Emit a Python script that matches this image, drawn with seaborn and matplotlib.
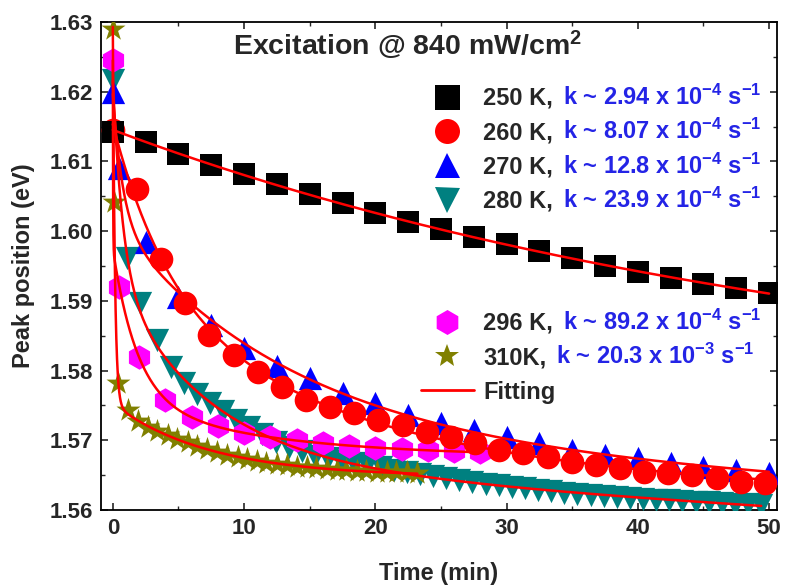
import numpy as np
import pandas as pd
import matplotlib
matplotlib.use("Agg")
import matplotlib.pyplot as plt
from matplotlib.lines import Line2D
from matplotlib.ticker import MultipleLocator, FormatStrFormatter
import seaborn as sns

# ---- measured peak positions (time in min, energy in eV) ----
t_250 = [0, 2.5, 5, 7.5, 10, 12.5, 15, 17.5, 20, 22.5, 25, 27.5, 30, 32.5,
         35, 37.5, 40, 42.5, 45, 47.5, 50]
pk_250 = [1.6142, 1.6128, 1.6111, 1.6095, 1.6082, 1.6068, 1.6053, 1.6040,
          1.6026, 1.6013, 1.6003, 1.5992, 1.5982, 1.5971, 1.5961, 1.5950,
          1.5941, 1.5933, 1.5924, 1.5918, 1.5911]

t_260 = [0, 1.84, 3.68, 5.52, 7.36, 9.2, 11.04, 12.88, 14.72, 16.56, 18.4,
         20.24, 22.08, 23.92, 25.76, 27.6, 29.44, 31.28, 33.12, 34.96, 36.8,
         38.64, 40.48, 42.32, 44.16, 46.0, 47.84, 49.68]
pk_260 = [1.6145, 1.6060, 1.5960, 1.5897, 1.5851, 1.5822, 1.5798, 1.5776,
          1.5758, 1.5748, 1.5739, 1.5729, 1.5722, 1.5712, 1.5705, 1.5696,
          1.5686, 1.5682, 1.5676, 1.5669, 1.5665, 1.5660, 1.5654, 1.5653,
          1.5650, 1.5646, 1.5640, 1.5639]

t_270 = [0, 0.5, 2.5, 5, 7.5, 10, 12.5, 15, 17.5, 20, 22.5, 25, 27.5, 30,
         32.5, 35, 37.5, 40, 42.5, 45, 47.5, 50]
pk_270 = [1.6200, 1.6090, 1.5985, 1.5905, 1.5865, 1.5832, 1.5807, 1.5789,
          1.5768, 1.5753, 1.5736, 1.5725, 1.5715, 1.5705, 1.5696, 1.5686,
          1.5679, 1.5675, 1.5667, 1.5662, 1.5657, 1.5653]

t_280 = [0, 1.05, 2.05, 3.4, 4.4, 5.4, 6.4, 7.4, 8.4, 9.4,
         10.4, 11.4, 12.4, 13.4, 14.4, 15.4, 16.4, 17.4, 18.4, 19.4,
         20.4, 21.4, 22.4, 23.4, 24.4, 25.4, 26.4, 27.4, 28.4, 29.4,
         30.4, 31.4, 32.4, 33.4, 34.4, 35.4, 36.4, 37.4, 38.4, 39.4,
         40.4, 41.4, 42.4, 43.4, 44.4, 45.4, 46.4, 47.4, 48.4, 49.4]
pk_280 = [1.6217, 1.5961, 1.5897, 1.5844, 1.5805, 1.5782, 1.5767, 1.5753, 1.5742, 1.5729,
          1.5719, 1.5709, 1.5697, 1.5690, 1.5684, 1.5678, 1.5674, 1.5670, 1.5667, 1.5664,
          1.5661, 1.5658, 1.5655, 1.5652, 1.5649, 1.5646, 1.5643, 1.5640, 1.5638, 1.5636,
          1.5633, 1.5631, 1.5629, 1.5627, 1.5625, 1.5623, 1.5622, 1.5620, 1.5619, 1.5617,
          1.5616, 1.5615, 1.5614, 1.5613, 1.5612, 1.5611, 1.5610, 1.5609, 1.5608, 1.5607]

t_296 = [0, 0.5, 2, 4, 6, 8, 10, 12, 14, 16, 18, 20, 22, 24, 26, 28]
pk_296 = [1.6245, 1.5920, 1.5820, 1.5758, 1.5733, 1.5720, 1.5710, 1.5705,
          1.5700, 1.5696, 1.5692, 1.5689, 1.5687, 1.5686, 1.5684, 1.5683]

t_310 = [0, 0.1, 0.4, 1.15, 1.9, 2.65, 3.4, 4.2, 4.9, 5.7, 6.4, 7.2, 7.9,
         8.7, 9.5, 10.2, 11.0, 11.7, 12.5, 13.3, 14.0, 14.8, 15.5, 16.3,
         17.1, 17.8, 18.6, 19.3, 20.1, 20.9, 21.6, 22.4, 23.2]
pk_310 = [1.6290, 1.6042, 1.5782, 1.5743, 1.5728, 1.5719, 1.5713, 1.5707,
          1.5702, 1.5697, 1.5692, 1.5687, 1.5683, 1.5679, 1.5676, 1.5673,
          1.5670, 1.5668, 1.5666, 1.5664, 1.5662, 1.5661, 1.5660, 1.5659,
          1.5658, 1.5657, 1.5656, 1.5656, 1.5655, 1.5655, 1.5654, 1.5654,
          1.5653]

# ---- series labels and decay constants (k = mantissa x 10^exponent, s^-1) ----
temps = ["250 K,", "260 K,", "270 K,", "280 K,", "296 K,", "310K,"]
k_mant = [2.94, 8.07, 12.8, 23.9, 89.2, 20.3]
k_exp = [-4, -4, -4, -4, -4, -3]

times = [t_250, t_260, t_270, t_280, t_296, t_310]
peaks = [pk_250, pk_260, pk_270, pk_280, pk_296, pk_310]
markers = ["s", "o", "^", "v", "h", "*"]
colors = ["#000000", "#FF0000", "#0000FF", "#008080", "#FF00FF", "#808000"]
sizes = [250, 290, 280, 280, 310, 330]
zorders = [4, 3.5, 3.2, 3.0, 3.3, 3.4]


def k_label(m, e):
    return f"k ~ {m:g} x 10$^{{{e}}}$ s$^{{-1}}$"


def fit_curve(t, y, rate, single=False):
    """Least-squares exponential fit with the decay rate fixed to k."""
    t = np.asarray(t, float)
    y = np.asarray(y, float)
    tf = np.unique(np.concatenate([np.linspace(0, min(1.0, t.max()), 300),
                                   np.linspace(0, t.max(), 600)]))
    if single:
        X = np.column_stack([np.ones_like(t), np.exp(-rate * t)])
        c = np.linalg.lstsq(X, y, rcond=None)[0]
        return tf, c[0] + c[1] * np.exp(-rate * tf)
    best, best_free = None, None
    for ta in np.geomspace(0.02, 3.0, 45):
        for tb in np.geomspace(1.5, 120.0, 45):
            X = np.column_stack([np.ones_like(t), np.exp(-rate * t),
                                 np.exp(-t / ta), np.exp(-t / tb)])
            c = np.linalg.lstsq(X, y, rcond=None)[0]
            sse = float(np.sum((X @ c - y) ** 2))
            cand = (sse, c, ta, tb)
            if best_free is None or sse < best_free[0]:
                best_free = cand
            if np.all(c[1:] >= -1e-6) and (best is None or sse < best[0]):
                best = cand
    sse, c, ta, tb = best if best is not None else best_free
    yf = c[0] + c[1] * np.exp(-rate * tf) + c[2] * np.exp(-tf / ta) + c[3] * np.exp(-tf / tb)
    return tf, yf


sns.set_theme(style="ticks")
plt.rcParams["font.family"] = ["Liberation Sans", "DejaVu Sans"]
plt.rcParams.update({
    "font.weight": "bold",
    "axes.labelweight": "bold",
    "mathtext.fontset": "custom",
    "mathtext.rm": "Liberation Sans:bold",
    "mathtext.it": "Liberation Sans:bold",
    "mathtext.bf": "Liberation Sans:bold",
    "mathtext.default": "rm",
    "xtick.direction": "in",
    "ytick.direction": "in",
    "xtick.top": True,
    "ytick.right": True,
    "axes.linewidth": 1.3,
    "xtick.major.width": 1.2,
    "ytick.major.width": 1.2,
    "xtick.minor.width": 1.0,
    "ytick.minor.width": 1.0,
    "xtick.major.size": 5,
    "ytick.major.size": 5,
    "xtick.minor.size": 3,
    "ytick.minor.size": 3,
    "axes.edgecolor": "black",
})

fig, ax = plt.subplots(figsize=(7.86, 5.86), dpi=100)
fig.subplots_adjust(left=0.1285, right=0.9885, top=0.9625, bottom=0.1297)

frames = []
for name, t, p in zip(temps, times, peaks):
    frames.append(pd.DataFrame({"time": t, "peak": p, "series": name}))
df = pd.concat(frames, ignore_index=True)

for name, mk, col, s, z in zip(temps, markers, colors, sizes, zorders):
    sub = df[df["series"] == name]
    sns.scatterplot(data=sub, x="time", y="peak", marker=mk, color=col, s=s,
                    linewidth=0, ax=ax, zorder=z, legend=False)

# fitted decay curves
for i, (t, p) in enumerate(zip(times, peaks)):
    rate = k_mant[i] * 10.0 ** k_exp[i] * 60.0  # per minute
    tf, yf = fit_curve(t, p, rate, single=(i == 0))
    sns.lineplot(x=tf, y=yf, color="#FF0000", linewidth=1.8, ax=ax,
                 estimator=None, sort=False, zorder=5, legend=False)

ax.set_xlim(-0.9, 50.6)
ax.set_ylim(1.56, 1.63)
ax.xaxis.set_major_locator(MultipleLocator(10))
ax.xaxis.set_minor_locator(MultipleLocator(5))
ax.yaxis.set_major_locator(MultipleLocator(0.01))
ax.yaxis.set_minor_locator(MultipleLocator(0.005))
ax.yaxis.set_major_formatter(FormatStrFormatter("%.2f"))
ax.tick_params(axis="both", which="both", labelsize=16, pad=6)
ax.set_xlabel("Time (min)", fontsize=17, labelpad=16)
ax.set_ylabel("Peak position (eV)", fontsize=17, labelpad=10)

ax.text(0.453, 0.951, "Excitation @ 840 mW/cm$^{2}$", transform=ax.transAxes,
        ha="center", va="center", fontsize=20.5, fontweight="bold", zorder=7)

# legend: two blocks of marker keys, plus the fit line
handles = [Line2D([], [], marker=m, color=c, linestyle="none", markersize=18,
                  markeredgewidth=0) for m, c in zip(markers, colors)]
fit_handle = Line2D([], [], color="#FF0000", linewidth=2)
leg_kw = dict(frameon=False, fontsize=17, handlelength=2.25, handletextpad=0.4,
              labelspacing=0.48, borderpad=0, borderaxespad=0, loc="upper left")
leg1 = ax.legend(handles[:4], temps[:4], bbox_to_anchor=(0.473, 0.867), **leg_kw)
ax.add_artist(leg1)
leg2 = ax.legend(handles[4:] + [fit_handle], temps[4:] + ["Fitting"],
                 bbox_to_anchor=(0.473, 0.406), **leg_kw)

fig.canvas.draw()
label_texts = list(leg1.get_texts()) + list(leg2.get_texts())[:2]
for txt, m, e in zip(label_texts, k_mant, k_exp):
    ax.annotate(k_label(m, e), xy=(1, 0), xycoords=txt, xytext=(7, 0),
                textcoords="offset points", ha="left", va="bottom",
                color="#2424E6", fontsize=17, fontweight="bold", zorder=8)

fig.savefig("out.png", dpi=100)
